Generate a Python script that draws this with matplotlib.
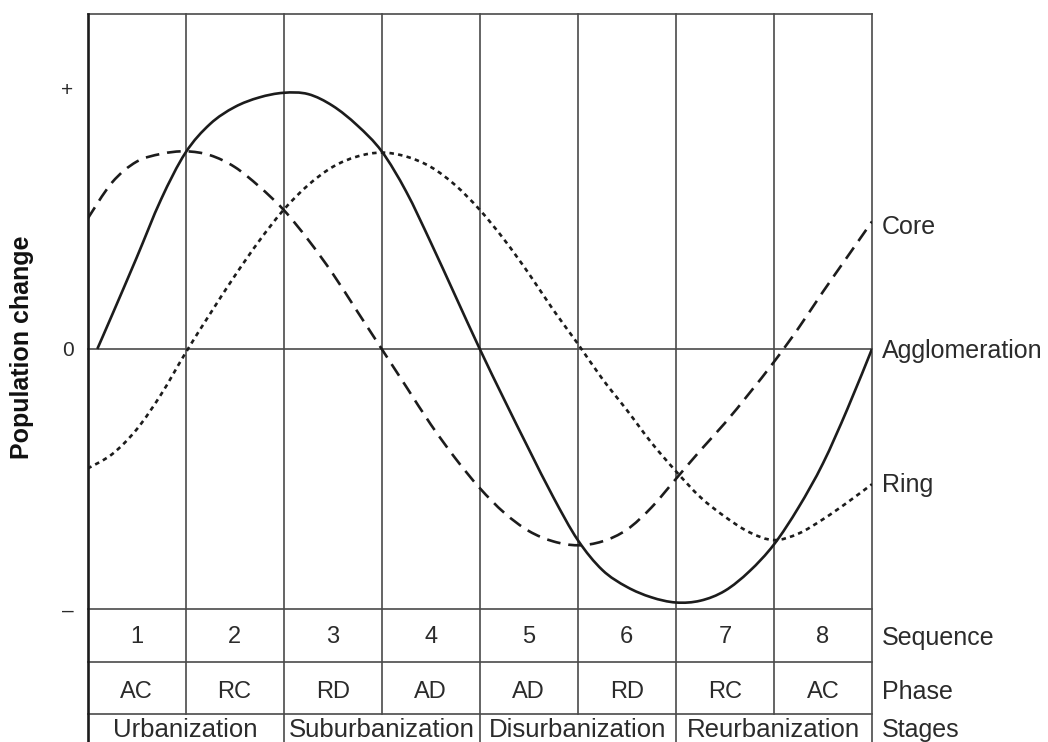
import matplotlib.pyplot as plt
import numpy as np
from matplotlib.path import Path
from matplotlib.patches import PathPatch

plt.rcParams["font.family"] = ["Liberation Sans", "DejaVu Sans"]

# positions along the cycle, in sequence-column units (0..8)
cycle_x = np.arange(33) * 0.25
agglom_x = np.concatenate([[0.1], cycle_x[1:]])

agglomeration = [
    0.0, 0.13, 0.35, 0.575, 0.755, 0.865, 0.93, 0.967,
    0.985, 0.98, 0.935, 0.86, 0.76, 0.605, 0.41, 0.205,
    0.0, -0.195, -0.385, -0.57, -0.735, -0.85, -0.915, -0.955,
    -0.975, -0.968, -0.93, -0.855, -0.752, -0.61, -0.44, -0.23,
    0.0,
]
core = [
    0.50, 0.64, 0.72, 0.75, 0.76, 0.745, 0.70, 0.625,
    0.535, 0.42, 0.29, 0.145, 0.0, -0.145, -0.29, -0.42,
    -0.535, -0.63, -0.70, -0.74, -0.755, -0.74, -0.695, -0.61,
    -0.50, -0.39, -0.285, -0.17, -0.05, 0.08, 0.22, 0.355,
    0.49,
]
ring = [
    -0.46, -0.405, -0.31, -0.175, -0.015, 0.135, 0.28, 0.415,
    0.535, 0.63, 0.70, 0.74, 0.755, 0.74, 0.70, 0.63,
    0.535, 0.42, 0.29, 0.15, 0.02, -0.115, -0.235, -0.36,
    -0.47, -0.57, -0.645, -0.705, -0.735, -0.71, -0.655, -0.59,
    -0.52,
]

sequence = ["1", "2", "3", "4", "5", "6", "7", "8"]
phases = ["AC", "RC", "RD", "AD", "AD", "RD", "RC", "AC"]
stages = ["Urbanization", "Suburbanization", "Disurbanization", "Reurbanization"]

LINE = "#1c1c1c"
GRID = "#4a4a4a"
TEXT = "#2b2b2b"

# table rows below the plot, in the same y units as the curves
Y_TOP = 1.288
Y_SEQ = -1.0
Y_PHASE = -1.204
Y_STAGE = -1.404
Y_BOTTOM = -1.52


def smooth_path(xs, ys):
    """Catmull-Rom curve through the given points, as cubic Bezier segments."""
    pts = np.column_stack([xs, ys]).astype(float)
    verts = [pts[0]]
    codes = [Path.MOVETO]
    n = len(pts)
    for i in range(n - 1):
        p0 = pts[i - 1] if i > 0 else pts[i]
        p1, p2 = pts[i], pts[i + 1]
        p3 = pts[i + 2] if i + 2 < n else pts[i + 1]
        verts += [p1 + (p2 - p0) / 6, p2 - (p3 - p1) / 6, p2]
        codes += [Path.CURVE4] * 3
    return Path(verts, codes)


fig = plt.figure(figsize=(10.48, 7.42), dpi=100)
ax = fig.add_axes([87.5 / 1048, (742 - 609) / 742, 784.5 / 1048, 595 / 742])
ax.set_xlim(0, 8)
ax.set_ylim(-1, Y_TOP)
for s in ax.spines.values():
    s.set_visible(False)
ax.set_xticks([])
ax.set_yticks([-1, 0, 1])
ax.set_yticklabels(["\u2013", "0", "+"])
ax.tick_params(axis="y", length=0, pad=10, labelsize=15, labelcolor=TEXT)

# frame and column grid
grid_kw = dict(color=GRID, lw=1.2, clip_on=False, zorder=1)
ax.plot([0, 8], [Y_TOP, Y_TOP], **grid_kw)
ax.plot([0, 8], [0, 0], **grid_kw)
for yy in (Y_SEQ, Y_PHASE, Y_STAGE):
    ax.plot([0, 8], [yy, yy], **grid_kw)
for c in range(1, 8):
    bottom = Y_BOTTOM if c % 2 == 0 else Y_STAGE
    ax.plot([c, c], [Y_TOP, bottom], **grid_kw)
ax.plot([8, 8], [Y_TOP, Y_BOTTOM], **grid_kw)
ax.plot([0, 0], [Y_TOP, Y_BOTTOM], color=LINE, lw=1.9, clip_on=False, zorder=2)

# curves
curve_styles = [
    (agglom_x, agglomeration, "-"),
    (cycle_x, core, (0, (5.2, 3.0))),
    (cycle_x, ring, (0, (1.7, 1.6))),
]
for xs, ys, style in curve_styles:
    ax.add_patch(PathPatch(smooth_path(xs, ys), fill=False, edgecolor=LINE,
                           lw=1.9, linestyle=style, capstyle="butt", zorder=3))

# curve names at the right end of each line
label_x = 8.1
name_kw = dict(ha="left", va="center_baseline", fontsize=18, color=TEXT)
ax.text(label_x, core[-1] - 0.01, "Core", **name_kw)
ax.text(label_x, agglomeration[-1], "Agglomeration", **name_kw)
ax.text(label_x, ring[-1] + 0.005, "Ring", **name_kw)

# table cells
seq_mid = (Y_SEQ + Y_PHASE) / 2
phase_mid = (Y_PHASE + Y_STAGE) / 2 - 0.005
stage_mid = (Y_STAGE + Y_BOTTOM) / 2 + 0.008
cell_kw = dict(ha="center", va="center_baseline", fontsize=17, color=TEXT)
for i, (num, ph) in enumerate(zip(sequence, phases)):
    ax.text(i + 0.5, seq_mid + 0.004, num, **cell_kw)
    ax.text(i + 0.5, phase_mid, ph, **cell_kw)
for i, st in enumerate(stages):
    ax.text(2 * i + 1, stage_mid, st, ha="center", va="center_baseline",
            fontsize=18.5, color=TEXT)

ax.text(label_x, seq_mid, "Sequence", **name_kw)
ax.text(label_x, phase_mid, "Phase", **name_kw)
ax.text(label_x, stage_mid, "Stages", **name_kw)

fig.text(22 / 1048, 1 - 347 / 742, "Population change", rotation=90,
         ha="center", va="center", fontsize=18, fontweight="bold", color="#111111")

fig.savefig("out.png", dpi=100, facecolor="white")
